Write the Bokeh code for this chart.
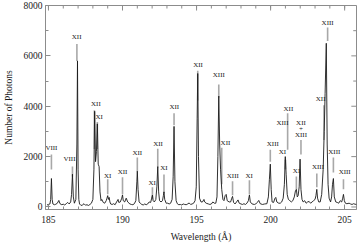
from bokeh.plotting import figure
from bokeh.models import FixedTicker, Range1d, ColumnDataSource
from bokeh.core.properties import value
from bokeh.embed import file_html
from bokeh.resources import INLINE

# Spectrum (wavelength in Angstrom, photon counts)
wavelength = [184.9, 185.0, 185.1, 185.15, 185.2, 185.25, 185.3, 185.4, 185.5, 185.6, 185.7, 185.78, 185.9,
              186.0, 186.1, 186.2, 186.3, 186.4, 186.5, 186.56, 186.62, 186.68, 186.75, 186.85, 186.92, 186.96,
              187.0, 187.05, 187.1, 187.2, 187.3, 187.4, 187.5, 187.6, 187.7, 187.8, 187.9, 188.0, 188.07, 188.12,
              188.18, 188.24, 188.3, 188.36, 188.42, 188.48, 188.55, 188.6, 188.7, 188.8, 188.9, 188.95, 189.0,
              189.05, 189.1, 189.15, 189.2, 189.3, 189.4, 189.5, 189.6, 189.7, 189.75, 189.85, 189.95, 190.0,
              190.05, 190.15, 190.25, 190.35, 190.5, 190.6, 190.7, 190.8, 190.9, 190.97, 191.0, 191.05, 191.12,
              191.2, 191.3, 191.4, 191.5, 191.6, 191.7, 191.8, 191.9, 191.97, 192.02, 192.07, 192.15, 192.25,
              192.32, 192.38, 192.44, 192.5, 192.6, 192.7, 192.76, 192.8, 192.85, 192.95, 193.05, 193.15, 193.25,
              193.35, 193.42, 193.48, 193.54, 193.62, 193.7, 193.8, 193.9, 194.0, 194.1, 194.2, 194.3, 194.4,
              194.5, 194.6, 194.7, 194.8, 194.9, 194.98, 195.04, 195.08, 195.13, 195.2, 195.3, 195.4, 195.5,
              195.55, 195.65, 195.8, 195.9, 196.0, 196.1, 196.2, 196.3, 196.38, 196.44, 196.5, 196.56, 196.62,
              196.7, 196.78, 196.85, 196.93, 197.0, 197.07, 197.2, 197.3, 197.38, 197.43, 197.5, 197.6, 197.7,
              197.8, 197.88, 198.0, 198.1, 198.2, 198.3, 198.4, 198.5, 198.57, 198.63, 198.75, 198.9, 199.0,
              199.1, 199.2, 199.3, 199.45, 199.6, 199.75, 199.85, 199.92, 199.98, 200.04, 200.1, 200.2, 200.3,
              200.35, 200.42, 200.55, 200.65, 200.75, 200.85, 200.93, 200.99, 201.05, 201.12, 201.2, 201.3,
              201.4, 201.5, 201.6, 201.68, 201.74, 201.8, 201.86, 201.93, 201.99, 202.05, 202.12, 202.2, 202.3,
              202.4, 202.5, 202.6, 202.7, 202.8, 202.9, 203.0, 203.06, 203.12, 203.17, 203.25, 203.35, 203.45,
              203.55, 203.62, 203.68, 203.76, 203.82, 203.88, 203.95, 204.05, 204.12, 204.18, 204.24, 204.3,
              204.4, 204.5, 204.6, 204.7, 204.8, 204.87, 204.92, 204.98, 205.05, 205.15, 205.3, 205.4, 205.5,
              205.6, 205.7, 205.8]
photons = [80, 100, 120, 300, 1130, 300, 120, 90, 110, 150, 260, 130, 90,
           110, 80, 130, 180, 120, 200, 500, 1300, 400, 150, 300, 2500, 5800,
           1500, 300, 120, 60, 80, 130, 70, 90, 60, 100, 150, 300, 1500, 3800,
           1800, 2200, 3300, 1700, 1600, 600, 250, 300, 180, 150, 250, 350, 450,
           300, 380, 200, 120, 100, 130, 90, 200, 300, 180, 200, 350, 480,
           250, 200, 350, 200, 120, 100, 90, 130, 250, 1000, 1420, 700, 200,
           150, 100, 80, 120, 90, 120, 200, 180, 350, 470, 250, 200, 300,
           800, 1600, 600, 250, 200, 250, 450, 600, 300, 150, 150, 120, 150,
           300, 1200, 3200, 1000, 250, 130, 90, 100, 80, 120, 100, 90, 120,
           160, 100, 120, 150, 250, 800, 3500, 5300, 2000, 350, 200, 200, 300,
           200, 150, 120, 100, 120, 200, 150, 150, 400, 2000, 4400, 2500, 1500,
           700, 300, 250, 450, 500, 250, 200, 200, 350, 420, 180, 120, 200,
           280, 150, 120, 100, 130, 100, 150, 250, 480, 200, 120, 100, 120,
           180, 260, 130, 100, 120, 130, 400, 1100, 1700, 700, 200, 180, 350,
           380, 200, 150, 150, 200, 350, 900, 2000, 1300, 500, 300, 250,
           200, 250, 400, 650, 700, 400, 450, 800, 1900, 700, 300, 200, 250,
           150, 200, 220, 150, 200, 250, 300, 450, 700, 350, 200, 200, 500,
           1500, 3000, 4500, 6500, 2500, 900, 350, 200, 400, 900, 1130, 400,
           200, 180, 150, 250, 200, 350, 500, 250, 150, 130, 150, 120, 100,
           130, 110, 100]

# Ion identifications: label, label wavelength, label height, marker wavelength, marker top, marker bottom
ion_label = ["VIII", "VIII", "XII", "XII", "XI", "XI", "XII", "XII", "XI", "XII", "XI", "XII",
             "XII", "XIII", "XII", "XIII", "XI", "XIII", "XI", "XIII", "XII", "XI", "XIII",
             "XII", "XIII", "XIII", "XIII"]
ion_x = [185.2, 186.42, 186.9, 188.2, 188.43, 189.0, 190.0, 191.0, 192.0, 192.4, 192.8, 193.5,
         195.1, 196.5, 196.95, 197.45, 198.55, 200.15, 200.8, 200.8, 201.2, 201.75, 203.2,
         203.38, 203.85, 204.3, 205.0]
ion_y = [2350, 1920, 6740, 4080, 3570, 1250, 1370, 2160, 940, 2510, 1530, 3960,
         5640, 5250, 2550, 1215, 1250, 2510, 2200, 3330, 3880, 1410, 1570,
         4270, 7290, 2200, 1370]
mark_x = [185.2, 186.62, 186.92, 188.1, 188.3, 189.0, 190.0, 191.0, 192.02, 192.38, 192.8, 193.48,
          195.08, 196.5, 196.7, 197.43, 198.57, 199.98, 201.0, 201.0, 201.15, 201.74, 203.12,
          203.6, 203.85, 204.24, 204.92]
mark_top = [2080, 1610, 6470, 3840, 3370, 1100, 1180, 1960, 780, 2310, 1290, 3720,
            5410, 4860, 2350, 1020, 1060, 2270, 1880, 1880, 3720, 1215, 1330,
            4040, 7130, 1960, 1100]
mark_bottom = [1490, 1215, 5800, 2300, 2300, 510, 510, 1410, 310, 1570, 550, 3250,
               4230, 4350, 900, 470, 510, 1800, 1500, 1500, 2270, 700, 780,
               2660, 6590, 1370, 700]
# "XII + XIII" blend at 202.05
blend_x = 202.05
blend_lines = ["XII", "+", "XIII"]
blend_y = [3330, 3110, 2850]
blend_mark = [2660, 2080]

x_major = [185, 190, 195, 200, 205]
x_minor = list(range(185, 206))
y_major = [0, 2000, 4000, 6000, 8000]
y_minor = [1000, 3000, 5000, 7000]
x_lo, x_hi = 184.8, 205.8
y_lo, y_hi = -100, 8000

SERIF = "Liberation Serif"
AXIS_COL = "#8c8c8c"
TXT = "#1a1a1a"

p = figure(width=357, height=244, output_backend="svg", toolbar_location=None,
           x_range=Range1d(x_lo, x_hi), y_range=Range1d(y_lo, y_hi),
           min_border_left=45, min_border_right=1, min_border_top=5, min_border_bottom=33)
p.outline_line_color = AXIS_COL
p.grid.visible = False
p.background_fill_color = "white"

# tick marks on the top and right frame edges (mirrors of the bottom/left axes)
top_len = 120   # counts
top_len_major = 200
right_len = 0.22  # Angstrom
right_len_major = 0.35
p.segment(x0=x_minor, y0=[y_hi] * len(x_minor), x1=x_minor, y1=[y_hi - top_len] * len(x_minor),
          line_color=AXIS_COL, line_width=1)
p.segment(x0=x_major, y0=[y_hi] * len(x_major), x1=x_major, y1=[y_hi - top_len_major] * len(x_major),
          line_color=AXIS_COL, line_width=1)
p.segment(x0=[x_hi] * len(y_minor), y0=y_minor, x1=[x_hi - right_len] * len(y_minor), y1=y_minor,
          line_color=AXIS_COL, line_width=1)
p.segment(x0=[x_hi] * len(y_major), y0=y_major, x1=[x_hi - right_len_major] * len(y_major), y1=y_major,
          line_color=AXIS_COL, line_width=1)

# marker bars
p.segment(x0=mark_x, y0=mark_top, x1=mark_x, y1=mark_bottom, line_color="#a8a8a8", line_width=1.6)
p.segment(x0=[blend_x], y0=[blend_mark[0]], x1=[blend_x], y1=[blend_mark[1]], line_color="#a8a8a8", line_width=1.6)

p.line(wavelength, photons, line_color="#1a1a1a", line_width=0.9)

src = ColumnDataSource(dict(x=ion_x, y=ion_y, t=ion_label))
p.text(x="x", y="y", text="t", source=src, text_font=value(SERIF), text_font_size="7px",
       text_align="center", text_baseline="middle", text_color=TXT)
p.text(x=[blend_x] * 3, y=blend_y, text=blend_lines, text_font=value(SERIF), text_font_size="7px",
       text_align="center", text_baseline="middle", text_color=TXT)

for ax in (p.xaxis[0], p.yaxis[0]):
    ax.axis_line_color = AXIS_COL
    ax.major_tick_line_color = AXIS_COL
    ax.minor_tick_line_color = AXIS_COL
    ax.major_tick_in = 5
    ax.major_tick_out = 0
    ax.minor_tick_in = 3
    ax.minor_tick_out = 0
    ax.major_label_text_font = SERIF
    ax.major_label_text_font_size = "9.5px"
    ax.major_label_text_color = TXT
    ax.axis_label_text_font = SERIF
    ax.axis_label_text_font_size = "9.5px"
    ax.axis_label_text_font_style = "normal"
    ax.axis_label_text_color = TXT

p.xaxis.ticker = FixedTicker(ticks=x_major, minor_ticks=x_minor)
p.yaxis.ticker = FixedTicker(ticks=y_major, minor_ticks=y_minor)
p.xaxis.axis_label = "Wavelength (Å)"
p.yaxis.axis_label = "Number of Photons"
p.xaxis.major_label_standoff = 6
p.xaxis.axis_label_standoff = 6
p.yaxis.major_label_standoff = 3
p.yaxis.axis_label_standoff = 7

open("out.html", "w").write(file_html(p, INLINE))
